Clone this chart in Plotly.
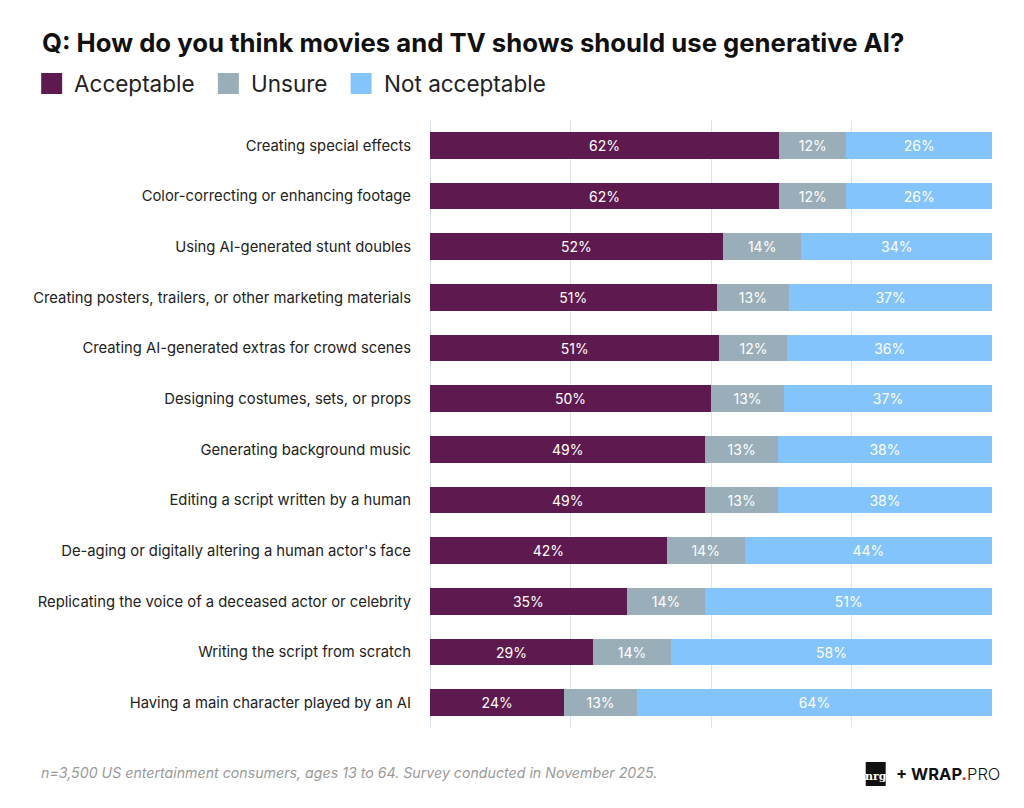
import plotly.graph_objects as go

categories = [
    "Creating special effects",
    "Color-correcting or enhancing footage",
    "Using AI-generated stunt doubles",
    "Creating posters, trailers, or other marketing materials",
    "Creating AI-generated extras for crowd scenes",
    "Designing costumes, sets, or props",
    "Generating background music",
    "Editing a script written by a human",
    "De-aging or digitally altering a human actor's face",
    "Replicating the voice of a deceased actor or celebrity",
    "Writing the script from scratch",
    "Having a main character played by an AI",
]

acceptable = [62.1, 62.1, 52.1, 51.0, 51.5, 50.0, 49.0, 49.0, 42.1, 35.0, 29.0, 23.9]
unsure = [12.0, 12.0, 14.0, 12.9, 12.1, 13.0, 12.9, 12.9, 13.9, 14.0, 13.9, 12.9]
not_acceptable = [25.9, 25.9, 33.9, 36.1, 36.4, 37.0, 38.1, 38.1, 44.0, 51.0, 57.1, 63.2]

acceptable_labels = ["62%", "62%", "52%", "51%", "51%", "50%", "49%", "49%", "42%", "35%", "29%", "24%"]
unsure_labels = ["12%", "12%", "14%", "13%", "12%", "13%", "13%", "13%", "14%", "14%", "14%", "13%"]
not_acceptable_labels = ["26%", "26%", "34%", "37%", "36%", "37%", "38%", "38%", "44%", "51%", "58%", "64%"]

series = [
    ("Acceptable", acceptable, acceptable_labels, "#5e1a4e"),
    ("Unsure", unsure, unsure_labels, "#9aaeb9"),
    ("Not acceptable", not_acceptable, not_acceptable_labels, "#82c4fb"),
]

FONT = "Inter"
OFF = 8  # page body margin offset
W, H = 1024, 808
L = 429.5 - OFF
R = 992.5 - OFF
T = 120 - OFF
B = 728 - OFF

fig = go.Figure()
for name, vals, labels, color in series:
    fig.add_trace(go.Bar(
        y=categories, x=vals, name=name, orientation="h",
        marker=dict(color=color, line=dict(width=0)),
        text=labels, textposition="inside", insidetextanchor="middle",
        textfont=dict(color="white", size=14, family=FONT),
        constraintext="none", hoverinfo="skip", showlegend=False,
    ))

fig.update_layout(
    barmode="stack",
    width=W, height=H,
    margin=dict(l=L, r=W - R, t=T, b=H - B, pad=0),
    paper_bgcolor="white", plot_bgcolor="white",
    bargap=0.48,
    font=dict(family=FONT, color="#222222"),
    uniformtext=dict(minsize=10, mode="show"),
)
fig.update_xaxes(
    range=[0, 100], dtick=25, showgrid=True, gridcolor="#dde5ec", gridwidth=1,
    zeroline=True, zerolinecolor="#dde5ec", zerolinewidth=1,
    showticklabels=False, fixedrange=True,
)
fig.update_yaxes(
    autorange="reversed", showgrid=False, ticks="", ticklabelstandoff=18,
    tickfont=dict(size=14.8, family=FONT, color="#222222"), fixedrange=True,
)

# screenshot pixel -> paper coords
px_x = lambda px: (px - OFF - L) / (R - L)
px_y = lambda py: (B - (py - OFF)) / (B - T)

# Title
fig.add_annotation(
    text="<b>Q: How do you think movies and TV shows should use generative AI?</b>",
    xref="paper", yref="paper", x=px_x(39), y=px_y(43),
    xanchor="left", yanchor="middle", showarrow=False,
    font=dict(size=25.7, family=FONT, color="#111111"),
)

# Custom legend
legend_items = [("Acceptable", "#5e1a4e", 40), ("Unsure", "#9aaeb9", 217), ("Not acceptable", "#82c4fb", 350)]
for name, color, x0 in legend_items:
    fig.add_shape(type="rect", xref="paper", yref="paper",
                  x0=px_x(x0), x1=px_x(x0 + 21), y0=px_y(73), y1=px_y(94),
                  fillcolor=color, line=dict(width=0))
    fig.add_annotation(text=name, xref="paper", yref="paper",
                       x=px_x(x0 + 31), y=px_y(83.5), xanchor="left", yanchor="middle",
                       showarrow=False, font=dict(size=22.5, family=FONT, color="#222222"))

# Footer
fig.add_annotation(
    text="<i>n=3,500 US entertainment consumers, ages 13 to 64. Survey conducted in November 2025.</i>",
    xref="paper", yref="paper", x=px_x(38), y=px_y(773), xanchor="left", yanchor="middle",
    showarrow=False, font=dict(size=14.2, family=FONT, color="#9a9a9a"),
)

# Logo
fig.add_shape(type="rect", xref="paper", yref="paper",
              x0=px_x(866), x1=px_x(886), y0=px_y(762), y1=px_y(786),
              fillcolor="#111111", line=dict(width=0))
fig.add_annotation(text="<b>nrg</b>", xref="paper", yref="paper",
                   x=px_x(876), y=px_y(776), xanchor="center", yanchor="middle",
                   showarrow=False, font=dict(size=11, family="DejaVu Serif", color="white"))
fig.add_annotation(
    text="<b>+ WRAP</b><span style='color:#e0202a'><b>.</b></span><span style='font-weight:300'>PRO</span>",
    xref="paper", yref="paper", x=px_x(894), y=px_y(774), xanchor="left", yanchor="middle",
    showarrow=False, font=dict(size=16.5, family=FONT, color="#111111"),
)

fig.write_html("out.html")
